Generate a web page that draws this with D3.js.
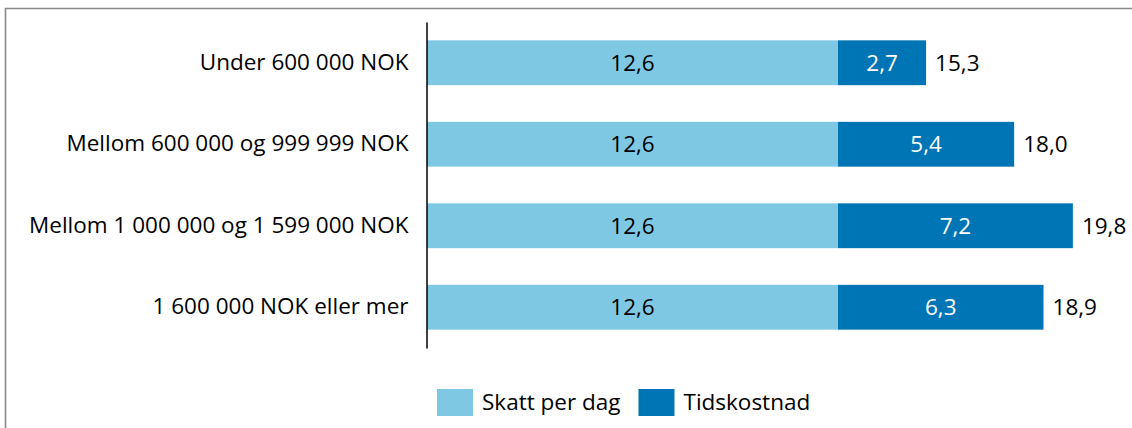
<!DOCTYPE html>
<html>
<head>
<meta charset="utf-8">
<script src="https://cdn.jsdelivr.net/npm/d3@7"></script>
<style>
body { margin:0; background:#fff; }
svg text { font-family:"Open Sans", sans-serif; }
</style>
</head>
<body>
<svg id="chart"></svg>
<script>
// data
var categories = ["Under 600 000 NOK", "Mellom 600 000 og 999 999 NOK",
                  "Mellom 1 000 000 og 1 599 000 NOK", "1 600 000 NOK eller mer"];
var skatt = [12.6, 12.6, 12.6, 12.6];
var tidskostnad = [2.7, 5.4, 7.2, 6.3];
var totals = [15.3, 18.0, 19.8, 18.9];
var seriesNames = ["Skatt per dag", "Tidskostnad"];
var colors = ["#7EC8E4", "#0075B5"];

var screen = {width:1132, height:428};
var fmt = function(v){ return v.toFixed(1).replace(".", ","); };

var svg = d3.select("#chart")
    .attr("width", screen.width)
    .attr("height", screen.height);

// frame
svg.append("path")
    .attr("d", "M5.5,428 L5.5,8.5 L1132,8.5")
    .attr("fill", "none")
    .attr("stroke", "#8a8a8a")
    .attr("stroke-width", 1.6);

var x = d3.scaleLinear()
    .domain([0, 20])
    .range([427, 1079.4]);

var y = d3.scaleBand()
    .domain(categories)
    .range([22, 348])
    .paddingInner(0.45)
    .paddingOuter(0.225);

var rows = categories.map(function(c, i)
{
    return {cat:c, a:skatt[i], b:tidskostnad[i], total:totals[i]};
});

// light segment
svg.append("g").selectAll("rect")
    .data(rows).enter()
    .append("rect")
    .attr("x", x(0))
    .attr("y", function(d){ return y(d.cat); })
    .attr("width", function(d){ return x(d.a) - x(0); })
    .attr("height", y.bandwidth())
    .attr("fill", colors[0]);

// dark segment
svg.append("g").selectAll("rect")
    .data(rows).enter()
    .append("rect")
    .attr("x", function(d){ return x(d.a); })
    .attr("y", function(d){ return y(d.cat); })
    .attr("width", function(d){ return x(d.a + d.b) - x(d.a); })
    .attr("height", y.bandwidth())
    .attr("fill", colors[1]);

// labels inside
var fs = 22.5;
svg.append("g").selectAll("text")
    .data(rows).enter()
    .append("text")
    .attr("x", function(d){ return (x(0) + x(d.a)) / 2; })
    .attr("y", function(d){ return y(d.cat) + y.bandwidth()/2; })
    .attr("dy", "0.35em")
    .attr("text-anchor", "middle")
    .attr("font-size", fs)
    .attr("fill", "#000")
    .text(function(d){ return fmt(d.a); });

svg.append("g").selectAll("text")
    .data(rows).enter()
    .append("text")
    .attr("x", function(d){ return (x(d.a) + x(d.a + d.b)) / 2; })
    .attr("y", function(d){ return y(d.cat) + y.bandwidth()/2; })
    .attr("dy", "0.35em")
    .attr("text-anchor", "middle")
    .attr("font-size", fs)
    .attr("fill", "#fff")
    .text(function(d){ return fmt(d.b); });

// totals
svg.append("g").selectAll("text")
    .data(rows).enter()
    .append("text")
    .attr("x", function(d){ return x(d.a + d.b) + 9; })
    .attr("y", function(d){ return y(d.cat) + y.bandwidth()/2; })
    .attr("dy", "0.35em")
    .attr("font-size", fs)
    .attr("fill", "#000")
    .text(function(d){ return fmt(d.total); });

// category axis
var yAxis = svg.append("g")
    .attr("transform", "translate(426.5,0)")
    .call(d3.axisLeft(y).tickSize(0).tickSizeOuter(0).tickPadding(18));
yAxis.select(".domain")
    .attr("stroke", "#000")
    .attr("stroke-width", 1.5);
yAxis.selectAll("text")
    .attr("font-family", "Open Sans, sans-serif")
    .attr("font-size", fs)
    .attr("fill", "#000");

// legend
var legend = svg.append("g").attr("transform", "translate(437,389)");
var lx = 0;
seriesNames.forEach(function(name, i)
{
    var g = legend.append("g").attr("transform", "translate(" + lx + ",0)");
    g.append("rect")
        .attr("width", 36)
        .attr("height", 27)
        .attr("fill", colors[i]);
    var t = g.append("text")
        .attr("x", 45)
        .attr("y", 13.5)
        .attr("dy", "0.35em")
        .attr("font-size", fs)
        .attr("fill", "#000")
        .text(name);
    lx += 45 + t.node().getComputedTextLength() + 18;
});
</script>
</body>
</html>
